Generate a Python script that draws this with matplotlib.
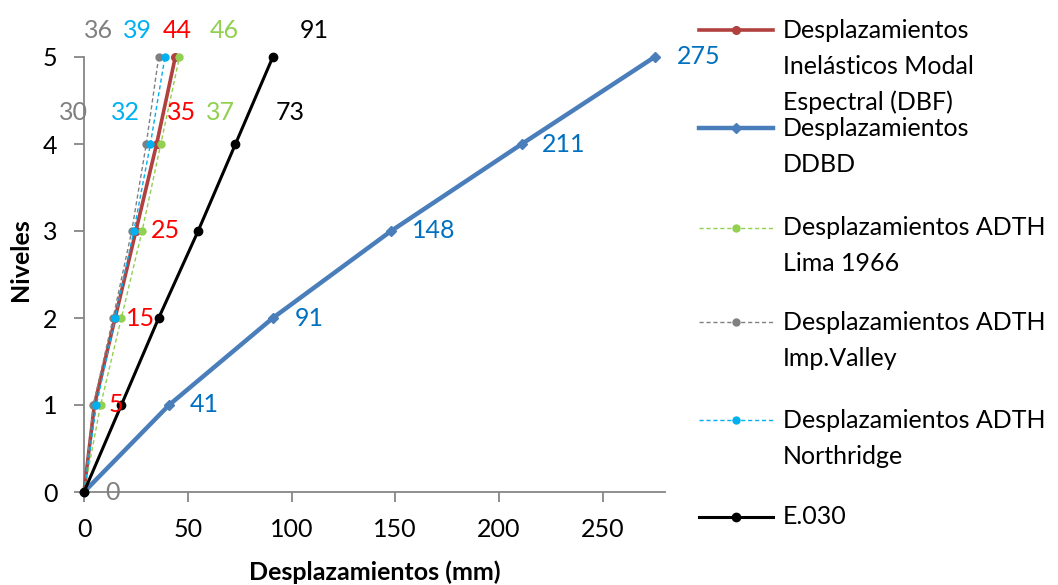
import matplotlib
matplotlib.use("Agg")
import matplotlib.pyplot as plt
from matplotlib.lines import Line2D

plt.rcParams['font.family'] = ['Lato', 'DejaVu Sans']

# ---- data -------------------------------------------------------------
niveles = [0, 1, 2, 3, 4, 5]

dbf = [0, 5, 15, 25, 35, 44]           # Inelásticos Modal Espectral (DBF)
ddbd = [0, 41, 91, 148, 211, 275]      # DDBD
lima = [0, 8, 18, 28, 37, 46]          # ADTH Lima 1966
imp_valley = [0, 4.5, 14, 23, 30, 36]  # ADTH Imp.Valley
northridge = [0, 6, 15, 24, 32, 39]    # ADTH Northridge
e030 = [0, 18, 36, 55, 73, 91]         # E.030

x_ticks = [0, 50, 100, 150, 200, 250]
y_ticks = [0, 1, 2, 3, 4, 5]

legend_labels = [
    "Desplazamientos\nInelásticos Modal\nEspectral (DBF)",
    "Desplazamientos\nDDBD",
    "Desplazamientos ADTH\nLima 1966",
    "Desplazamientos ADTH\nImp.Valley",
    "Desplazamientos ADTH\nNorthridge",
    "E.030",
]

# ---- styling ----------------------------------------------------------
W, H = 1058, 585
FS = 18
fig = plt.figure(figsize=(W / 100, H / 100), dpi=100)
ax = fig.add_axes([84 / W, 1 - 492 / H, 581 / W, 435 / H])

series = [
    # values, line colour, label colour, lw, ls, marker, ms, labelled levels with pixel offsets
    (dbf, '#B0413E', '#FF0000', 2.6, '-', 'o', 5.5,
     {1: (22, 0), 2: (25, 0), 3: (30, 0), 4: (25, 31), 5: (2, 27)}),
    (ddbd, '#4A7EBB', '#0070C0', 3.2, '-', 'D', 5.5,
     {1: (35, 0), 2: (36, 0), 3: (43, 0), 4: (42, 0), 5: (44, 0)}),
    (lima, '#92D050', '#92D050', 1.0, (0, (3, 2)), 'o', 5,
     {4: (60, 31), 5: (45, 27)}),
    (imp_valley, '#808080', '#808080', 1.0, (0, (3, 2)), 'o', 5,
     {0: (28, 0), 4: (-73, 31), 5: (-60, 27)}),
    (northridge, '#00B0F0', '#00B0F0', 1.0, (0, (3, 2)), 'o', 5,
     {4: (-25, 31), 5: (-27, 27)}),
    (e030, '#000000', '#000000', 2.2, '-', 'o', 6,
     {4: (55, 31), 5: (41, 27)}),
]

for vals, lc, tc, lw, ls, mk, ms, labs in series:
    ax.plot(vals, niveles, color=lc, lw=lw, ls=ls, marker=mk, ms=ms,
            mfc=lc, mec=lc, solid_capstyle='round', clip_on=False, zorder=3)

for vals, lc, tc, lw, ls, mk, ms, labs in series:
    for lvl, (dx, dy) in labs.items():
        v = vals[lvl]
        ax.annotate(f"{v:g}", (v, niveles[lvl]), xytext=(dx, dy),
                    textcoords='offset pixels', ha='center', va='center',
                    color=tc, fontsize=FS, zorder=5, annotation_clip=False)

ax.set_xlim(0, 280)
ax.set_ylim(0, 5)
ax.set_xticks(x_ticks)
ax.set_yticks(y_ticks)
for s in ('top', 'right'):
    ax.spines[s].set_visible(False)
for s in ('left', 'bottom'):
    ax.spines[s].set_color('#868686')
    ax.spines[s].set_linewidth(1.3)
ax.tick_params(axis='both', direction='out', length=7, width=1.3,
               color='#868686', labelsize=FS, pad=12, labelcolor='black')

fig.text(20 / W, 1 - 260 / H, "Niveles", rotation=90, ha='center',
         va='center', fontsize=FS, fontweight='bold')
fig.text(375 / W, 1 - 572 / H, "Desplazamientos (mm)", ha='center',
         va='center', fontsize=FS, fontweight='bold')

# ---- legend drawn at the right side ------------------------------------
entry_y = [30, 128, 228, 322, 420, 517]
line_pitch = 36
for (vals, lc, tc, lw, ls, mk, ms, labs), label, y0 in zip(series, legend_labels, entry_y):
    yf = 1 - y0 / H
    fig.add_artist(Line2D([699 / W, 773 / W], [yf, yf], transform=fig.transFigure,
                          color=lc, lw=lw, ls=ls))
    fig.add_artist(Line2D([736 / W], [yf], transform=fig.transFigure,
                          color=lc, marker=mk, ms=ms, mfc=lc, mec=lc))
    for i, line in enumerate(label.split("\n")):
        fig.text(783 / W, 1 - (y0 + i * line_pitch) / H, line, ha='left',
                 va='center', fontsize=FS)

fig.savefig("out.png", dpi=100)
